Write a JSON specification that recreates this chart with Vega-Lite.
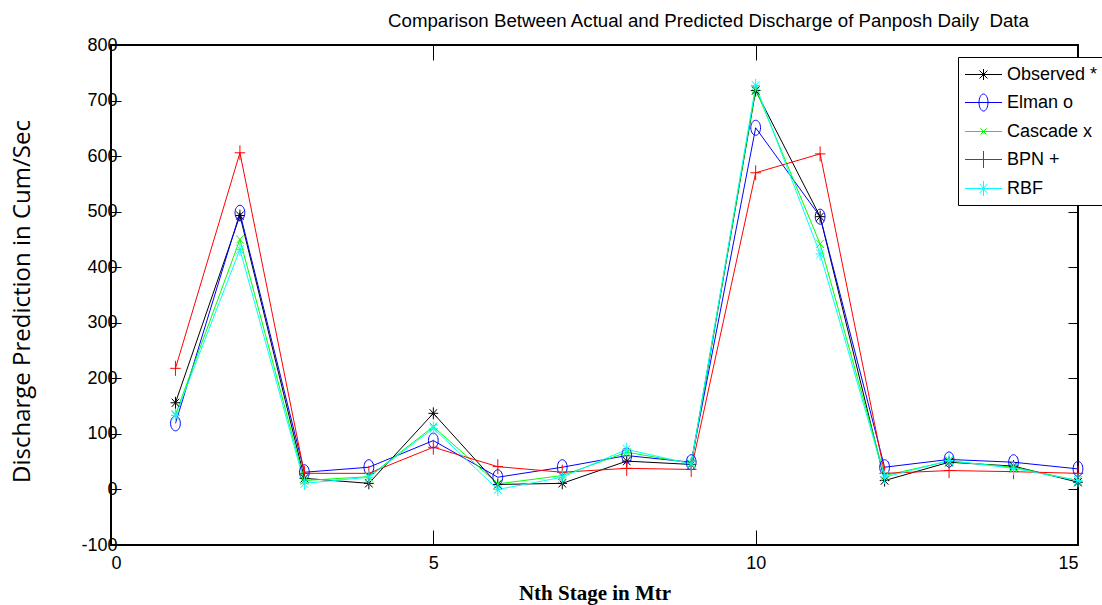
{
  "$schema": "https://vega.github.io/schema/vega-lite/v6.json",
  "width": 967,
  "height": 500,
  "autosize": {"type": "none"},
  "padding": {"left": 111, "top": 45, "right": 24, "bottom": 60},
  "background": "white",
  "title": {
    "text": "Comparison Between Actual and Predicted Discharge of Panposh Daily \u00a0Data",
    "anchor": "start",
    "frame": "group",
    "dx": 277,
    "dy": 27,
    "offset": 17,
    "baseline": "alphabetic",
    "font": "Liberation Sans",
    "fontSize": 18.7,
    "fontWeight": "normal",
    "color": "black"
  },
  "data": {
    "values": [
      {"stage": 1, "model": "Observed *", "discharge": 156},
      {"stage": 2, "model": "Observed *", "discharge": 493},
      {"stage": 3, "model": "Observed *", "discharge": 20},
      {"stage": 4, "model": "Observed *", "discharge": 11},
      {"stage": 5, "model": "Observed *", "discharge": 137},
      {"stage": 6, "model": "Observed *", "discharge": 9},
      {"stage": 7, "model": "Observed *", "discharge": 11},
      {"stage": 8, "model": "Observed *", "discharge": 51},
      {"stage": 9, "model": "Observed *", "discharge": 45},
      {"stage": 10, "model": "Observed *", "discharge": 718},
      {"stage": 11, "model": "Observed *", "discharge": 491},
      {"stage": 12, "model": "Observed *", "discharge": 16},
      {"stage": 13, "model": "Observed *", "discharge": 49},
      {"stage": 14, "model": "Observed *", "discharge": 42},
      {"stage": 15, "model": "Observed *", "discharge": 13},
      {"stage": 1, "model": "Elman o", "discharge": 119},
      {"stage": 2, "model": "Elman o", "discharge": 498},
      {"stage": 3, "model": "Elman o", "discharge": 31},
      {"stage": 4, "model": "Elman o", "discharge": 40},
      {"stage": 5, "model": "Elman o", "discharge": 88},
      {"stage": 6, "model": "Elman o", "discharge": 22},
      {"stage": 7, "model": "Elman o", "discharge": 40},
      {"stage": 8, "model": "Elman o", "discharge": 61},
      {"stage": 9, "model": "Elman o", "discharge": 49},
      {"stage": 10, "model": "Elman o", "discharge": 651},
      {"stage": 11, "model": "Elman o", "discharge": 491},
      {"stage": 12, "model": "Elman o", "discharge": 40},
      {"stage": 13, "model": "Elman o", "discharge": 54},
      {"stage": 14, "model": "Elman o", "discharge": 49},
      {"stage": 15, "model": "Elman o", "discharge": 37},
      {"stage": 1, "model": "Cascade x", "discharge": 135},
      {"stage": 2, "model": "Cascade x", "discharge": 450},
      {"stage": 3, "model": "Cascade x", "discharge": 16},
      {"stage": 4, "model": "Cascade x", "discharge": 23},
      {"stage": 5, "model": "Cascade x", "discharge": 113},
      {"stage": 6, "model": "Cascade x", "discharge": 10},
      {"stage": 7, "model": "Cascade x", "discharge": 25},
      {"stage": 8, "model": "Cascade x", "discharge": 67},
      {"stage": 9, "model": "Cascade x", "discharge": 47},
      {"stage": 10, "model": "Cascade x", "discharge": 721},
      {"stage": 11, "model": "Cascade x", "discharge": 442},
      {"stage": 12, "model": "Cascade x", "discharge": 25},
      {"stage": 13, "model": "Cascade x", "discharge": 51},
      {"stage": 14, "model": "Cascade x", "discharge": 40},
      {"stage": 15, "model": "Cascade x", "discharge": 16},
      {"stage": 1, "model": "BPN +", "discharge": 218},
      {"stage": 2, "model": "BPN +", "discharge": 606},
      {"stage": 3, "model": "BPN +", "discharge": 29},
      {"stage": 4, "model": "BPN +", "discharge": 29},
      {"stage": 5, "model": "BPN +", "discharge": 76},
      {"stage": 6, "model": "BPN +", "discharge": 41},
      {"stage": 7, "model": "BPN +", "discharge": 31},
      {"stage": 8, "model": "BPN +", "discharge": 38},
      {"stage": 9, "model": "BPN +", "discharge": 36},
      {"stage": 10, "model": "BPN +", "discharge": 570},
      {"stage": 11, "model": "BPN +", "discharge": 604},
      {"stage": 12, "model": "BPN +", "discharge": 29},
      {"stage": 13, "model": "BPN +", "discharge": 34},
      {"stage": 14, "model": "BPN +", "discharge": 32},
      {"stage": 15, "model": "BPN +", "discharge": 29},
      {"stage": 1, "model": "RBF", "discharge": 133},
      {"stage": 2, "model": "RBF", "discharge": 432},
      {"stage": 3, "model": "RBF", "discharge": 11},
      {"stage": 4, "model": "RBF", "discharge": 22},
      {"stage": 5, "model": "RBF", "discharge": 110},
      {"stage": 6, "model": "RBF", "discharge": 0},
      {"stage": 7, "model": "RBF", "discharge": 22},
      {"stage": 8, "model": "RBF", "discharge": 72},
      {"stage": 9, "model": "RBF", "discharge": 46},
      {"stage": 10, "model": "RBF", "discharge": 727},
      {"stage": 11, "model": "RBF", "discharge": 424},
      {"stage": 12, "model": "RBF", "discharge": 22},
      {"stage": 13, "model": "RBF", "discharge": 52},
      {"stage": 14, "model": "RBF", "discharge": 38},
      {"stage": 15, "model": "RBF", "discharge": 16}
    ]
  },
  "encoding": {
    "color": {
      "field": "model",
      "type": "nominal",
      "scale": {
        "domain": ["Observed *", "Elman o", "Cascade x", "BPN +", "RBF"],
        "range": ["#000000", "#0000ff", "#00ff00", "#ff0000", "#00ffff"]
      },
      "legend": {
        "title": null,
        "orient": "none",
        "legendX": 847,
        "legendY": 12,
        "strokeColor": "black",
        "fillColor": "white",
        "padding": 7,
        "labelFont": "Liberation Sans",
        "labelFontSize": 18,
        "labelColor": "black",
        "labelOffset": 13,
        "rowPadding": 8,
        "symbolSize": 400,
        "symbolOffset": 8,
        "symbolStrokeWidth": 1,
        "symbolFillColor": "transparent",
        "labelExpr": "(datum.label == 'Cascade x' || datum.label == 'BPN +' ? '\u00a0' : '') + datum.label",
        "encode": {"symbols": {"update": {"stroke": {"signal": "datum.value === 'BPN +' ? '#ff0000' : scale('color', datum.value)"}}}}
      }
    }
  },
  "layer": [
    {
      "mark": {"type": "line", "strokeWidth": 1},
      "encoding": {
        "x": {
          "field": "stage",
          "type": "quantitative",
          "scale": {"domain": [0, 15], "nice": false, "zero": false},
          "axis": {
            "orient": "bottom",
            "values": [0, 5, 10, 15],
            "tickSize": -15,
            "labelPadding": 24,
            "labelExpr": "'' + datum.value",
            "title": "Nth Stage in Mtr",
            "titleFont": "Liberation Serif",
            "titleFontWeight": "bold",
            "titleFontSize": 21,
            "titlePadding": 10
          }
        },
        "y": {
          "field": "discharge",
          "type": "quantitative",
          "scale": {"domain": [-100, 800], "nice": false, "zero": false},
          "axis": {
            "orient": "left",
            "values": [-100, 0, 100, 200, 300, 400, 500, 600, 700, 800],
            "tickSize": -10,
            "labelPadding": 4,
            "labelExpr": "'' + datum.value",
            "title": "Discharge Prediction in Cum/Sec",
            "titleFont": "Open Sans",
            "titleFontWeight": "normal",
            "titleFontSize": 24,
            "titlePadding": 46,
            "titleY": 256
          }
        }
      }
    },
    {
      "transform": [{"filter": "datum.model === 'Observed *'"}],
      "mark": {"type": "point", "filled": false, "size": 225, "strokeWidth": 1, "opacity": 1, "shape": "M0,-0.8V0.8M-0.65,0H0.65M-0.5,-0.55L0.5,0.55M-0.5,0.55L0.5,-0.55"},
      "encoding": {
        "x": {
          "field": "stage",
          "type": "quantitative",
          "axis": {"orient": "top", "values": [0, 5, 10, 15], "tickSize": -15, "labels": false, "title": null}
        },
        "y": {
          "field": "discharge",
          "type": "quantitative",
          "axis": {"orient": "right", "values": [-100, 0, 100, 200, 300, 400, 500, 600, 700, 800], "tickSize": -10, "labels": false, "title": null}
        }
      }
    },
    {
      "transform": [{"filter": "datum.model === 'Elman o'"}],
      "mark": {"type": "point", "filled": false, "size": 225, "strokeWidth": 1, "opacity": 1, "shape": "M0,-1A0.65,1,0,1,1,0,1A0.65,1,0,1,1,0,-1Z"},
      "encoding": {
        "x": {"field": "stage", "type": "quantitative", "axis": null},
        "y": {"field": "discharge", "type": "quantitative", "axis": null}
      }
    },
    {
      "transform": [{"filter": "datum.model === 'Cascade x'"}],
      "mark": {"type": "point", "filled": false, "size": 225, "strokeWidth": 1, "opacity": 1, "shape": "M-0.5,-0.55L0.5,0.55M-0.5,0.55L0.5,-0.55"},
      "encoding": {
        "x": {"field": "stage", "type": "quantitative", "axis": null},
        "y": {"field": "discharge", "type": "quantitative", "axis": null}
      }
    },
    {
      "transform": [{"filter": "datum.model === 'BPN +'"}],
      "mark": {"type": "point", "filled": false, "size": 225, "strokeWidth": 1, "opacity": 1, "shape": "M0,-1V1M-0.7,0H0.7"},
      "encoding": {
        "x": {"field": "stage", "type": "quantitative", "axis": null},
        "y": {"field": "discharge", "type": "quantitative", "axis": null}
      }
    },
    {
      "transform": [{"filter": "datum.model === 'RBF'"}],
      "mark": {"type": "point", "filled": false, "size": 225, "strokeWidth": 1, "opacity": 1, "shape": "M0,-0.9V0.9M-0.6,0H0.6M-0.5,-0.6L0.5,0.6M-0.5,0.6L0.5,-0.6"},
      "encoding": {
        "x": {"field": "stage", "type": "quantitative", "axis": null},
        "y": {"field": "discharge", "type": "quantitative", "axis": null}
      }
    },
    {
      "transform": [{"filter": "datum.stage > 1000"}],
      "mark": {"type": "point", "filled": false, "strokeWidth": 1},
      "encoding": {
        "x": {"field": "stage", "type": "quantitative", "axis": null},
        "y": {"field": "discharge", "type": "quantitative", "axis": null},
        "shape": {
          "field": "model",
          "type": "nominal",
          "scale": {
            "domain": ["Observed *", "Elman o", "Cascade x", "BPN +", "RBF"],
            "range": [
              "M-1.85,0H1.85M0,-0.55V0.55M-0.4,-0.4L0.4,0.4M-0.4,0.4L0.4,-0.4",
              "M-1.85,0H1.85M0,-0.85A0.45,0.85,0,1,1,0,0.85A0.45,0.85,0,1,1,0,-0.85Z",
              "M-1.85,0H1.85M-0.3,-0.3L0.3,0.3M-0.3,0.3L0.3,-0.3",
              "M-1.85,0H1.85M0,-0.85V0.85",
              "M-1.85,0H1.85M0,-0.75V0.75M-0.37,-0.45L0.37,0.45M-0.37,0.45L0.37,-0.45"
            ]
          },
          "legend": {
            "title": null,
            "orient": "none",
            "legendX": 847,
            "legendY": 12,
            "strokeColor": "black",
            "fillColor": "white",
            "padding": 7,
            "labelFont": "Liberation Sans",
            "labelFontSize": 18,
            "labelColor": "black",
            "labelOffset": 13,
            "rowPadding": 8,
            "symbolSize": 400,
            "symbolOffset": 8,
            "symbolStrokeWidth": 1,
            "symbolFillColor": "transparent",
            "labelExpr": "(datum.label == 'Cascade x' || datum.label == 'BPN +' ? '\u00a0' : '') + datum.label",
            "encode": {"symbols": {"update": {"stroke": {"signal": "datum.value === 'BPN +' ? '#ff0000' : scale('color', datum.value)"}}}}
          }
        }
      }
    }
  ],
  "config": {
    "view": {"stroke": "black", "strokeWidth": 2},
    "axis": {
      "grid": false,
      "domain": false,
      "tickColor": "black",
      "tickWidth": 1,
      "labelColor": "black",
      "labelFont": "Liberation Sans",
      "labelFontSize": 18,
      "titleColor": "black"
    }
  }
}
